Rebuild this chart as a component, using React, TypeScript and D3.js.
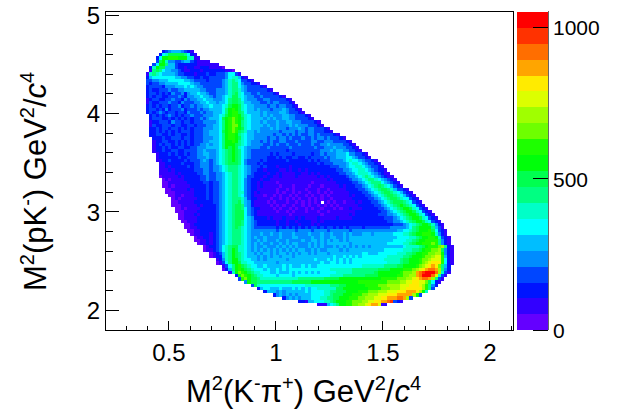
import React from "react";
import * as d3 from "d3";

const W = 621, H = 414;
const palette = ["#6400ff","#3200ff","#0014ff","#0046ff","#008cff","#00beff","#00ffff","#00ffc8","#00ff82","#00ff50","#00ff0a","#1eff00","#6eff00","#a0ff00","#dcff00","#ffeb00","#ffa500","#ff6e00","#ff3200","#ff0000"];
const xTicks = [0.5, 1, 1.5, 2];
const yTicks = [2, 3, 4, 5];
const zTicks = [0, 500, 1000];
// one row per M²(pK) bin, top to bottom; one base-20 colour band per M²(Kπ) bin; "." = empty
const binRows = [
".....23455 54321",
"....267999 998621",
"...26aabbb aaa7711",
"...39a7443 3455321111",
"..36aa8553 2222221111 111",
".27a995553 2212211222 11110",
".189865544 3211222122 22222110",
"1787655554 3322212223 2233346631",
"2566666665 5443322322 3333346775 21",
"3344555666 6655433332 3333457876 3321",
"3233445555 6666544333 3333457886 433221",
"2333324445 5565654433 3333457886 54333321",
"2322333433 4455555443 3344457887 5433333321",
"2332323243 3424556554 3344457897 6443343333 21",
"2323322333 4324455655 4344567997 6544334333 3321",
"1233223343 3243445565 5444568998 6544433443 333321",
"1322333433 2433344556 5545568998 7554443343 4433321",
"2323233233 4233434455 6555679aa9 7655444434 43443321",
"2332324233 3423334344 555568aba9 7655454443 444543321",
"2323432332 3324333434 455568abb9 8655554544 4455433321",
".232323432 3233433344 455679abba 8765554545 4445544333 21",
".233322323 2323233434 55569abcba 9765555454 5445544333 321",
".122333243 3233233344 44568abcba 8765554544 4544554443 33321",
".132233323 3223323334 45568abcca 8765555454 4544454544 433321",
".223233233 2323233344 45568abcba 9765554445 4544344454 34433321",
".223232323 2333233344 55569abcb9 8755454444 4434444344 344333221",
".223322323 3223233344 55568abba8 7655444444 3443434343 3443433332 1",
"..22232233 3233233344 45568abba9 7655444434 4344343334 3343443433 321",
"..12233223 2323233344 55568aaba8 7654443434 3344333433 3344334443 33321",
"..12323323 2323233445 45568aaa98 7654444334 3433433343 3343344544 443321",
"..12232322 3322334445 55568a9a97 6544443343 3333343333 3334334445 4443321",
"..12232233 2233334454 4456789a98 6543333333 3333233333 3333344454 55443321",
"...1222323 2232334455 4456789a98 6543333332 3233332333 3323343444 5556443321",
"...1222222 3223334445 4456789a98 6543333322 2323223322 3233334344 5556654332 1",
"...1122322 2232333454 3456789a98 6433332322 2222322222 2323233344 4456766543 321",
"....112222 2322233444 3456789998 6433323222 2222222222 2222323334 4445677654 3321",
"....112122 2223233444 3445678887 6543332322 2122212222 2222222233 3445667765 43321",
"....111212 2222233344 3445678887 6543322122 2211212212 1222222222 3344566776 543221",
"....111112 1222223344 3344567887 6543222212 2121111221 1212122222 2334456777 6543211",
"....011111 2122222334 3344567887 6533222122 1121111211 1111212122 2223445678 76543211",
".....01011 1122222334 3344567887 6432221221 1111111111 1111111212 2222344567 887654321",
".....00111 1112222233 2334567887 6432212111 1011111111 1101111111 2222233456 7888654321",
".....00101 1111222223 2334567887 6432212111 1101110111 1011101111 1212223345 6789876532 1",
"......0011 1112122223 2334567887 6432211111 1011010111 0111011011 1112222334 5678998753 321",
"......0001 1111122223 2334567887 7432121111 1010110101 1011010101 1111222233 4567899876 5321",
".......001 1011122223 2334567887 6432111011 0101101011 0101101011 1111212223 3456789987 65321",
"........01 0111112223 2334567888 7532211110 1101010101 1010101101 1111122222 3345678998 766321",
"........00 1111122222 2334567889 7542111101 0111011010 10101.1010 1101112122 2334567899 9876321",
"........00 0111112122 2234567899 8542111110 1010110110 1011010101 0111111222 2233456789 a9876321",
".........0 0101111222 2234567899 8643221111 0101101011 0101101110 1011211122 2223345678 9aa976321",
".........0 0011112222 2234567899 9643211111 1011010111 0111011011 1111112222 2222334567 89aa976321",
".......... 0011121222 2234567899 9643211111 1111101111 1111101111 1111212222 2223334456 789aa97632 1",
".......... 0011112222 2234567899 9654222212 1112111212 1111211111 2111122222 2222233345 6789aa9763 21",
".......... .001112222 2234567899 8654322222 2122122122 2211212222 2222222222 2222223344 56789aa976 321",
".......... ..00122222 2234567899 8654322222 2122122212 2212122222 2222222222 2222222233 3456789aa9 7421",
".......... ..00112222 2234567898 7654333333 3232323232 3233232332 3232333323 3333333444 445689aaaa 8531",
".......... ...0011222 2234567888 7654444444 4344444344 4434444344 4444344444 4444444445 566789aaab 96321",
".......... ....011222 1234567888 7654445445 4454445444 4544454454 4454544455 5455555566 67789aabbb a7421",
".......... .....01122 1234567888 7654544544 4454445544 4454454455 4454555555 5555555556 6667789aab ba7321",
".......... .....00112 1234567888 7654454544 4544544445 4455454545 5454555555 5555555566 667789aabb bb8421",
".......... ......0112 1234567888 7654545445 4454545544 4545454555 5555455555 5555556666 67789aabbb cb8421",
".......... ........01 2234678997 7654544544 4545454544 4545454445 4545454545 4555555555 5677778 9ab bbcd821",
".......... ........01 1234678a97 7654545454 5454545455 4454544555 5454555555 5555566666 6777889abb ccd9421",
".......... .......... 0123578a98 7655454554 5455454545 5454555455 5555555566 5556666667 77889aabbc cdda421",
".......... .......... 0122578a98 7655545454 5545554555 5555555556 5565656566 6666667777 7889aaabcc deeb521",
".......... .......... ..12478aa8 7665545455 5555455555 5556555656 5656566666 6666677777 899aaabccd eeeb621",
".......... .......... ..01368aa9 7766555555 5455555555 5555565566 5656566666 6666667777 899aaabcde fffb621",
".......... .......... ....1368ab 9876655655 5556565556 5655666666 6666666677 7777788889 9aaaabcdef gfc852",
".......... .......... ....0258ab a987666565 5656566666 6666666677 7777788888 8889999aaa abbbcdefgh hgd842",
".......... .......... ......17ac ba98776665 5655565656 5656566666 7777788888 889aaaaaaa bcccdghijj jhd731",
".......... .......... ........2a cba9877666 6566665666 6666666677 7788888889 999aaaaaab bccddghjjj he731",
".......... .......... .........3 bca9987777 7777777788 8888889999 9aaaaaaaaa aaaabbbbbc ccddefghhg d831",
".......... .......... .......... .4a9988888 8888889999 99aaaaaaaa aaaaaaabbb bbbbbbcccc ddeeffeec9 621",
".......... .......... .......... ...3976666 6666666666 7777777788 899aaaaaab bbbcccdddd eeefffedb8 42",
".......... .......... .......... .....25665 5565556565 6566777777 99aaaaaaaa bbbbcccddd eefffffdb8 3",
".......... .......... .......... .......255 5454555555 6566667788 999aaaabbb cccdddeeef ffgggfda7",
".......... .......... .......... .......... 2454545455 5566667789 99aaabbbcc dddeeefffg ggggda3",
".......... .......... .......... .......... ...2454545 5566677889 9aaabbbccd ddeeffgggh hgd3",
".......... .......... .......... .......... ........22 1556667789 aaabbcccdd eeffgghi32 1",
".......... .......... .......... .......... .......... ....111567 8aabbccdde fgge11",
];

const X0 = 0.3925, DX = 0.01482;   // first bin edge and width in M²(Kπ)
const Y0 = 4.644, DY = 0.03254;    // top bin edge and height in M²(pK)
const ZMAX = 1052;

const x = d3.scaleLinear().domain([0.2033, 2.1075]).range([105.5, 513]);
const y = d3.scaleLinear().domain([1.797, 5.036]).range([330, 11.5]);
const z = d3.scaleLinear().domain([0, ZMAX]).range([330, 11.5]);
const colour = d3.scaleQuantize<string>().domain([0, ZMAX]).range(palette);

const cells = binRows.flatMap((row, r) =>
  row.replace(/ /g, "").split("").flatMap((ch, c) =>
    ch === "." ? [] : [{ c, r, count: (parseInt(ch, 20) + 0.5) * (ZMAX / 20) }])
);

const xMinor = d3.range(0.3, 2.11, 0.1).map((v) => +v.toFixed(1)).filter((v) => !xTicks.includes(v));
const yMinor = d3.range(2, 5.01, 0.2).map((v) => +v.toFixed(1)).filter((v) => !yTicks.includes(v));

const FONT = "'Liberation Sans', Arial, sans-serif";
const TITLE = 31, SUP = 20, RISE = 12;

// [text, raised, italic]
const xTitle: [string, boolean, boolean][] = [["M", false, false], ["2", true, false], ["(K", false, false], ["-", true, false], ["π", false, false], ["+", true, false], [") GeV", false, false], ["2", true, false], ["/", false, false], ["c", false, true], ["4", true, false]];
const yTitle: [string, boolean, boolean][] = [["M", false, false], ["2", true, false], ["(pK", false, false], ["-", true, false], [") GeV", false, false], ["2", true, false], ["/", false, false], ["c", false, true], ["4", true, false]];

function titleSpans(parts: [string, boolean, boolean][]) {
  return parts.map(([t, up, it], i) => {
    const prevUp = i > 0 && parts[i - 1][1];
    return (
      <tspan key={i} dy={up ? -RISE : prevUp ? RISE : 0} fontSize={up ? SUP : TITLE} fontStyle={it ? "italic" : "normal"}>{t}</tspan>
    );
  });
}

export default function App() {
  return (
    <svg width={W} height={H} style={{ position: "absolute", left: 0, top: 0, background: "#fff" }} fontFamily={FONT}>
      <g shapeRendering="crispEdges">
        {cells.map((d) => (
          <rect key={d.c + "-" + d.r}
            x={x(X0 + d.c * DX)} y={y(Y0 - d.r * DY)}
            width={x(X0 + DX) - x(X0) + 0.2} height={y(0) - y(DY) + 0.2}
            fill={colour(d.count)} />
        ))}
        {palette.map((p, i) => (
          <rect key={p} x={516.5} width={31.5} y={z((i + 1) * ZMAX / 20)} height={z(0) - z(ZMAX / 20) + 0.3} fill={p} />
        ))}
      </g>
      <g stroke="#000" strokeWidth={1} shapeRendering="crispEdges" fill="none">
        <rect x={105.5} y={11.5} width={407.5} height={318.5} />
        <line x1={548} x2={548} y1={11} y2={330} stroke="#666" />
        {xTicks.map((v) => <line key={v} x1={x(v)} x2={x(v)} y1={330} y2={321} />)}
        {xMinor.map((v) => <line key={v} x1={x(v)} x2={x(v)} y1={330} y2={325.5} />)}
        {yTicks.map((v) => <line key={v} y1={y(v)} y2={y(v)} x1={105.5} x2={119} />)}
        {yMinor.map((v) => <line key={v} y1={y(v)} y2={y(v)} x1={105.5} x2={112.5} />)}
        {zTicks.map((v) => <line key={v} y1={z(v)} y2={z(v)} x1={533} x2={548} />)}
      </g>
      {xTicks.map((v) => <text key={v} x={x(v)} y={361} textAnchor="middle" fontSize={24} fill="#000">{v}</text>)}
      {yTicks.map((v) => <text key={v} x={100} y={y(v) + 9} textAnchor="end" fontSize={24} fill="#000">{v}</text>)}
      {zTicks.map((v) => <text key={v} x={553} y={z(v) + 8} fontSize={21} fill="#000">{v}</text>)}
      <text x={186} y={402} fontSize={TITLE} fill="#000">{titleSpans(xTitle)}</text>
      <text transform="translate(46,291) rotate(-90)" fontSize={TITLE} fill="#000">{titleSpans(yTitle)}</text>
    </svg>
  );
}
